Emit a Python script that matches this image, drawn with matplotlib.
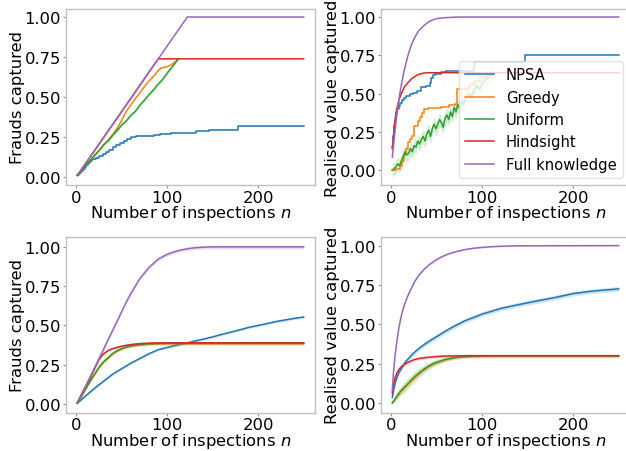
import matplotlib
matplotlib.use("Agg")
import matplotlib.pyplot as plt
import numpy as np

labels = ["NPSA", "Greedy", "Uniform", "Hindsight", "Full knowledge"]
colors = ["#1f77b4", "#ff7f0e", "#2ca02c", "#d62728", "#9467bd"]
xlabel = "Number of inspections $n$"
ylabels = ["Frauds captured", "Realised value captured"]
yticks = [0.0, 0.25, 0.5, 0.75, 1.0]
xticks = [0, 100, 200]

# ---------------- Top-left: frauds captured (single run) ----------------
tl_npsa_n = [1, 3, 5, 7, 9, 11, 13, 15, 17, 21, 25, 29, 33, 36, 40, 44, 48, 52, 56, 60, 65, 85, 92, 104, 132, 146, 178, 250]
tl_npsa_v = [0.008, 0.02, 0.035, 0.05, 0.062, 0.075, 0.087, 0.1, 0.11, 0.12, 0.13, 0.14, 0.155, 0.17, 0.185, 0.2, 0.213, 0.225, 0.237, 0.247, 0.255, 0.263, 0.27, 0.276, 0.285, 0.295, 0.315, 0.315]
tl_greedy_n = [1, 5, 10, 15, 20, 25, 30, 35, 40, 45, 50, 55, 60, 65, 70, 75, 80, 85, 90, 93, 97, 100, 104, 108, 112]
tl_greedy_v = [0.008, 0.035, 0.07, 0.1, 0.13, 0.165, 0.2, 0.23, 0.265, 0.305, 0.355, 0.41, 0.45, 0.49, 0.525, 0.565, 0.6, 0.63, 0.665, 0.68, 0.685, 0.69, 0.7, 0.715, 0.738]
tl_uniform_n = [1, 5, 10, 15, 20, 25, 30, 35, 40, 45, 50, 55, 60, 65, 70, 75, 80, 85, 90, 95, 100, 105, 112]
tl_uniform_v = [0.008, 0.035, 0.07, 0.1, 0.135, 0.165, 0.2, 0.225, 0.26, 0.29, 0.325, 0.35, 0.385, 0.41, 0.45, 0.48, 0.515, 0.545, 0.58, 0.61, 0.65, 0.685, 0.738]
tl_hind_n = [1, 90, 250]
tl_hind_v = [0.008, 0.738, 0.738]
tl_full_n = [1, 122, 250]
tl_full_v = [0.008, 1.0, 1.0]

# ---------------- Top-right: value captured (single run) ----------------
tr_npsa_n = [1, 2, 3, 4, 5, 6, 8, 10, 12, 14, 16, 20, 24, 28, 33, 38, 42, 44, 46, 48, 55, 60, 91, 147, 250]
tr_npsa_v = [0.152, 0.22, 0.29, 0.33, 0.37, 0.4, 0.42, 0.44, 0.455, 0.47, 0.485, 0.495, 0.505, 0.515, 0.54, 0.55, 0.57, 0.6, 0.62, 0.63, 0.64, 0.647, 0.705, 0.752, 0.752]
tr_greedy_n = [1, 5, 9, 12, 14, 16, 18, 20, 23, 25, 29, 32, 34, 36, 40, 55, 63, 70, 72, 84, 86, 92, 97, 100, 105, 113]
tr_greedy_v = [0.0, 0.01, 0.03, 0.06, 0.1, 0.14, 0.185, 0.2, 0.22, 0.29, 0.32, 0.35, 0.37, 0.4, 0.405, 0.415, 0.425, 0.433, 0.527, 0.535, 0.56, 0.58, 0.6, 0.61, 0.62, 0.636]
tr_uniform_n = [1, 3, 5, 7, 9, 11, 13, 15, 17, 19, 21, 23, 25, 27, 29, 31, 33, 35, 37, 39, 41, 43, 45, 47, 49, 51, 53, 55, 57, 59, 61, 63, 65, 67, 69, 71, 73, 75, 77, 79, 82, 85, 88, 91, 94, 97, 100, 103, 106, 109, 112]
tr_uniform_v = [0.0, 0.01, 0.02, 0.04, 0.03, 0.06, 0.09, 0.12, 0.1, 0.11, 0.14, 0.12, 0.16, 0.15, 0.19, 0.17, 0.2, 0.22, 0.19, 0.24, 0.26, 0.22, 0.27, 0.3, 0.27, 0.3, 0.33, 0.31, 0.28, 0.34, 0.36, 0.33, 0.38, 0.35, 0.41, 0.38, 0.43, 0.4, 0.45, 0.43, 0.47, 0.5, 0.48, 0.52, 0.55, 0.53, 0.57, 0.59, 0.6, 0.62, 0.63]
tr_hind_n = [1, 2, 3, 4, 5, 7, 9, 11, 14, 18, 22, 26, 30, 35, 40, 250]
tr_hind_v = [0.14, 0.2, 0.28, 0.33, 0.37, 0.43, 0.47, 0.5, 0.54, 0.57, 0.595, 0.612, 0.625, 0.633, 0.636, 0.636]
tr_full_n = [1, 3, 5, 7, 9, 11, 14, 18, 22, 26, 30, 35, 40, 45, 50, 60, 70, 80, 100, 250]
tr_full_v = [0.084, 0.2, 0.31, 0.41, 0.49, 0.56, 0.65, 0.745, 0.82, 0.87, 0.91, 0.94, 0.965, 0.98, 0.99, 0.996, 0.999, 1.0, 1.0, 1.0]

# ---------------- Bottom-left: frauds captured (averaged) ----------------
bl_npsa_n = [1, 10, 20, 30, 40, 50, 60, 70, 80, 90, 100, 110, 120, 130, 140, 150, 160, 170, 180, 190, 200, 210, 220, 230, 240, 250]
bl_npsa_v = [0.005, 0.05, 0.1, 0.145, 0.19, 0.225, 0.26, 0.29, 0.32, 0.345, 0.36, 0.374, 0.385, 0.4, 0.413, 0.427, 0.443, 0.457, 0.472, 0.488, 0.5, 0.512, 0.525, 0.535, 0.545, 0.553]
bl_greedy_n = [1, 5, 10, 15, 20, 25, 30, 35, 40, 45, 50, 55, 60, 70, 80, 90, 100, 250]
bl_greedy_v = [0.005, 0.043, 0.092, 0.142, 0.187, 0.232, 0.266, 0.292, 0.318, 0.336, 0.35, 0.36, 0.367, 0.375, 0.38, 0.382, 0.383, 0.383]
bl_uniform_n = [1, 5, 10, 15, 20, 25, 30, 35, 40, 45, 50, 55, 60, 70, 80, 90, 100, 250]
bl_uniform_v = [0.005, 0.045, 0.095, 0.145, 0.19, 0.235, 0.27, 0.295, 0.322, 0.34, 0.353, 0.363, 0.37, 0.378, 0.383, 0.385, 0.386, 0.386]
bl_hind_n = [1, 5, 10, 15, 20, 25, 30, 35, 40, 45, 50, 60, 70, 80, 100, 250]
bl_hind_v = [0.008, 0.055, 0.11, 0.165, 0.225, 0.285, 0.32, 0.34, 0.352, 0.36, 0.368, 0.378, 0.384, 0.387, 0.389, 0.389]
bl_full_n = [1, 10, 20, 30, 40, 50, 55, 60, 70, 80, 90, 100, 110, 120, 130, 140, 150, 250]
bl_full_v = [0.008, 0.11, 0.23, 0.35, 0.47, 0.59, 0.65, 0.705, 0.8, 0.87, 0.922, 0.953, 0.973, 0.986, 0.994, 0.998, 1.0, 1.0]

# ---------------- Bottom-right: value captured (averaged) ----------------
br_npsa_n = [1, 2, 4, 6, 8, 10, 13, 16, 20, 25, 30, 37, 45, 55, 65, 80, 100, 120, 140, 160, 180, 200, 220, 240, 250]
br_npsa_v = [0.035, 0.07, 0.125, 0.16, 0.19, 0.21, 0.24, 0.265, 0.29, 0.32, 0.345, 0.375, 0.405, 0.44, 0.475, 0.52, 0.565, 0.6, 0.625, 0.648, 0.67, 0.695, 0.71, 0.72, 0.725]
br_greedy_n = [1, 5, 10, 15, 20, 25, 30, 35, 40, 45, 50, 60, 70, 80, 90, 100, 120, 250]
br_greedy_v = [0.0, 0.03, 0.068, 0.098, 0.128, 0.156, 0.182, 0.205, 0.225, 0.242, 0.255, 0.274, 0.286, 0.292, 0.295, 0.296, 0.297, 0.297]
br_uniform_n = [1, 5, 10, 15, 20, 25, 30, 35, 40, 45, 50, 60, 70, 80, 90, 100, 120, 250]
br_uniform_v = [0.0, 0.035, 0.075, 0.105, 0.135, 0.165, 0.19, 0.212, 0.232, 0.248, 0.26, 0.278, 0.289, 0.295, 0.298, 0.3, 0.3, 0.3]
br_uniform_sd = [0.0, 0.025, 0.03, 0.035, 0.035, 0.035, 0.03, 0.028, 0.025, 0.02, 0.018, 0.014, 0.01, 0.008, 0.006, 0.005, 0.004, 0.004]
br_hind_n = [1, 2, 4, 6, 8, 10, 13, 16, 20, 25, 30, 40, 50, 60, 80, 250]
br_hind_v = [0.06, 0.11, 0.16, 0.19, 0.21, 0.225, 0.24, 0.252, 0.263, 0.275, 0.282, 0.29, 0.295, 0.298, 0.3, 0.3]
br_full_n = [1, 2, 3, 4, 6, 8, 10, 12, 15, 18, 22, 26, 30, 36, 42, 48, 55, 62, 70, 80, 90, 100, 110, 120, 140, 250]
br_full_v = [0.08, 0.17, 0.24, 0.3, 0.39, 0.47, 0.53, 0.58, 0.635, 0.68, 0.73, 0.775, 0.81, 0.85, 0.88, 0.905, 0.928, 0.946, 0.96, 0.974, 0.983, 0.989, 0.993, 0.996, 0.999, 1.0]

# band half-widths (estimated spread), per panel and series
band = {
    "tl": [0.004, 0.0, 0.01, 0.0, 0.0],
    "tr": [0.0, 0.0, 0.045, 0.0, 0.0],
    "bl": [0.008, 0.008, 0.008, 0.008, 0.012],
    "br": [0.015, 0.01, None, 0.01, 0.004],
}

panels = {
    "tl": [(tl_npsa_n, tl_npsa_v, "steps-post"), (tl_greedy_n, tl_greedy_v, "default"),
           (tl_uniform_n, tl_uniform_v, "default"), (tl_hind_n, tl_hind_v, "default"),
           (tl_full_n, tl_full_v, "default")],
    "tr": [(tr_npsa_n, tr_npsa_v, "steps-post"), (tr_greedy_n, tr_greedy_v, "steps-post"),
           (tr_uniform_n, tr_uniform_v, "default"), (tr_hind_n, tr_hind_v, "default"),
           (tr_full_n, tr_full_v, "default")],
    "bl": [(bl_npsa_n, bl_npsa_v, "default"), (bl_greedy_n, bl_greedy_v, "default"),
           (bl_uniform_n, bl_uniform_v, "default"), (bl_hind_n, bl_hind_v, "default"),
           (bl_full_n, bl_full_v, "default")],
    "br": [(br_npsa_n, br_npsa_v, "default"), (br_greedy_n, br_greedy_v, "default"),
           (br_uniform_n, br_uniform_v, "default"), (br_hind_n, br_hind_v, "default"),
           (br_full_n, br_full_v, "default")],
}

FS = 11.8
plt.rcParams["font.family"] = ["DejaVu Sans"]
plt.rcParams["font.size"] = FS

W, H = 626, 452
fig = plt.figure(figsize=(W / 100, H / 100), dpi=100)

def rect(left, top, right, bottom):
    return [left / W, 1 - bottom / H, (right - left) / W, (bottom - top) / H]

axes = {
    "tl": fig.add_axes(rect(66, 10, 315, 186)),
    "tr": fig.add_axes(rect(381, 10, 630, 186)),
    "bl": fig.add_axes(rect(66, 238, 315, 413.5)),
    "br": fig.add_axes(rect(381, 238, 630, 413.5)),
}

for key, ax in axes.items():
    for i, (n, v, ds) in enumerate(panels[key]):
        n = np.asarray(n, float)
        v = np.asarray(v, float)
        sd = band[key][i]
        if key == "br" and i == 2:
            sd = np.asarray(br_uniform_sd)
        if np.any(np.asarray(sd) > 0):
            step = "post" if ds == "steps-post" else None
            ax.fill_between(n, v - sd, v + sd, color=colors[i], alpha=0.2, lw=0, step=step)
        ax.plot(n, v, color=colors[i], lw=1.1, drawstyle=ds, label=labels[i])
    ax.set_xticks(xticks)
    ax.set_yticks(yticks)
    ax.set_yticklabels([f"{t:.2f}" for t in yticks])
    ax.set_xlabel(xlabel, labelpad=-1)
    ax.set_ylabel(ylabels[0] if key in ("tl", "bl") else ylabels[1], labelpad=0)
    for s in ax.spines.values():
        s.set_color("#c0c0c0")
        s.set_linewidth(1.0)
    ax.tick_params(colors="#909090", labelcolor="black", length=2.5, width=0.8, pad=1)
    ax.margins(x=0.05, y=0.05)

axes["tr"].legend(loc="lower right", frameon=True, framealpha=0.8, edgecolor="#dddddd",
                  fontsize=10.6, borderaxespad=0.5)

fig.savefig("out.png", dpi=100)
